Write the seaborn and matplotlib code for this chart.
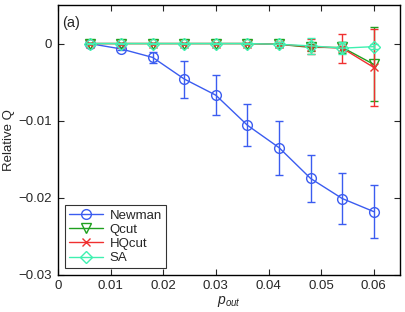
import numpy as np
import pandas as pd
import matplotlib
matplotlib.use("Agg")
import matplotlib.pyplot as plt
import seaborn as sns

# data
p_out = [0.006, 0.012, 0.018, 0.024, 0.030, 0.036, 0.042, 0.048, 0.054, 0.060]

newman = [0.0, -0.0007, -0.0018, -0.0046, -0.0067, -0.0106, -0.0135, -0.0175, -0.0201, -0.0218]
newman_err = [0.0001, 0.0002, 0.0007, 0.0024, 0.0026, 0.0027, 0.0035, 0.0030, 0.0033, 0.0034]

qcut = [0.0, 0.0, 0.0, 0.0, 0.0, 0.0, -0.0001, -0.0005, -0.0005, -0.0027]
qcut_err = [0.0001, 0.0001, 0.0001, 0.0001, 0.0001, 0.0001, 0.0003, 0.0005, 0.0007, 0.0048]

hqcut = [0.0, 0.0, 0.0, 0.0, 0.0, 0.0, -0.0001, -0.0004, -0.0006, -0.0031]
hqcut_err = [0.0001, 0.0001, 0.0001, 0.0001, 0.0001, 0.0001, 0.0003, 0.0010, 0.0019, 0.0050]

sa = [0.0, 0.0, 0.0, 0.0, 0.0, 0.0, -0.0001, -0.0003, -0.0006, -0.0004]
sa_err = [0.0001, 0.0001, 0.0001, 0.0001, 0.0001, 0.0001, 0.0003, 0.0010, 0.0008, 0.0003]

x_ticks = [0, 0.01, 0.02, 0.03, 0.04, 0.05, 0.06]
x_tick_labels = ["0", "0.01", "0.02", "0.03", "0.04", "0.05", "0.06"]
y_ticks = [-0.03, -0.02, -0.01, 0]
y_tick_labels = ["\u22120.03", "\u22120.02", "\u22120.01", "0"]

series = [
    ("Newman", newman, newman_err, "#3b5cf0", "o", 7),
    ("Qcut", qcut, qcut_err, "#1fa01f", "v", 7),
    ("HQcut", hqcut, hqcut_err, "#f03030", "x", 5.5),
    ("SA", sa, sa_err, "#3ff0b0", "D", 6),
]

sns.set_style("ticks")
plt.rcParams["font.family"] = ["Liberation Sans", "DejaVu Sans"]
plt.rcParams["mathtext.fontset"] = "custom"
plt.rcParams["mathtext.it"] = "Liberation Sans:italic"
plt.rcParams["mathtext.rm"] = "Liberation Sans"

fig = plt.figure(figsize=(4.05, 3.12), dpi=100)
ax = fig.add_axes([0.143, 0.119, 0.845, 0.865])

for name, vals, errs, color, marker, ms in series:
    df = pd.DataFrame({"p": p_out, "q": vals})
    ax.errorbar(p_out, vals, yerr=errs, fmt="none", ecolor=color,
                elinewidth=1, capsize=3, capthick=1)
    sns.lineplot(data=df, x="p", y="q", ax=ax, color=color, lw=1,
                 marker=marker, markersize=ms, markerfacecolor="none",
                 markeredgecolor=color, markeredgewidth=1, label=name)

ax.set_xlim(0, 0.065)
ax.set_ylim(-0.03, 0.005)
ax.set_xticks(x_ticks)
ax.set_xticklabels(x_tick_labels)
ax.set_yticks(y_ticks)
ax.set_yticklabels(y_tick_labels)
ax.tick_params(direction="in", top=True, right=True, labelsize=9.5,
               length=4, width=0.8, pad=4)
for sp in ax.spines.values():
    sp.set_linewidth(1)
    sp.set_color("black")

ax.set_xlabel("$p_{out}$", fontsize=10, labelpad=1)
ax.set_ylabel("Relative Q", fontsize=9.5, labelpad=3)
ax.text(0.012, 0.935, "(a)", transform=ax.transAxes, fontsize=10.5,
        ha="left", va="center")

leg = ax.legend(loc="lower left", bbox_to_anchor=(0.02, 0.025), fontsize=9.5,
                frameon=True, fancybox=False, edgecolor="black",
                borderpad=0.3, labelspacing=0.15, handlelength=2.6,
                handletextpad=0.5, borderaxespad=0)
leg.get_frame().set_linewidth(0.8)

fig.savefig("out.png", dpi=100)
